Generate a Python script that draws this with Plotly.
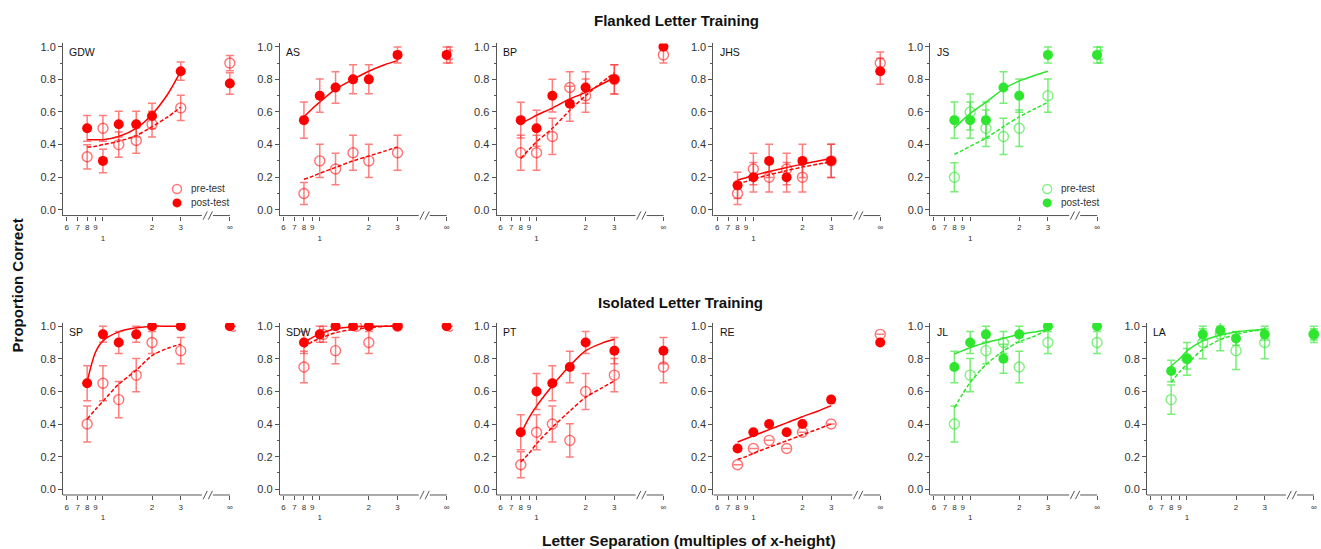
import plotly.graph_objects as go

W, H = 1321, 549

# ---------------- data ----------------
separation = [0.8, 1.0, 1.25, 1.6, 2.0, 3.0, 6.0]   # last value is the "∞" condition
fit_sep = [0.8, 0.9, 1.0, 1.25, 1.6, 2.0, 2.5, 3.0]
x_tickvals = [0.6, 0.7, 0.8, 0.9, 1, 2, 3, 6]
x_ticktext = ["6", "7", "8", "9", "<br>1", "2", "3", "∞"]
y_tickvals = [0, 0.2, 0.4, 0.6, 0.8, 1.0]

gdw_pre = [0.325, 0.50, 0.40, 0.425, 0.525, 0.625, 0.90]
gdw_pre_err = [0.074, 0.079, 0.077, 0.078, 0.079, 0.077, 0.047]
gdw_post = [0.50, 0.30, 0.525, 0.525, 0.575, 0.85, 0.775]
gdw_post_err = [0.079, 0.072, 0.079, 0.079, 0.078, 0.056, 0.066]
gdw_fit_pre = [0.385, 0.39, 0.40, 0.42, 0.455, 0.51, 0.57, 0.63]
gdw_fit_post = [0.43, 0.43, 0.43, 0.45, 0.50, 0.585, 0.71, 0.85]

as_pre = [0.10, 0.30, 0.25, 0.35, 0.30, 0.35, 0.95]
as_pre_err = [0.067, 0.102, 0.097, 0.107, 0.102, 0.107, 0.049]
as_post = [0.55, 0.70, 0.75, 0.80, 0.80, 0.95, 0.95]
as_post_err = [0.111, 0.102, 0.097, 0.089, 0.089, 0.049, 0.049]
as_fit_pre = [0.187, 0.205, 0.224, 0.26, 0.30, 0.33, 0.36, 0.386]
as_fit_post = [0.57, 0.62, 0.66, 0.74, 0.80, 0.85, 0.89, 0.915]

bp_pre = [0.35, 0.35, 0.45, 0.75, 0.70, 0.80, 0.95]
bp_pre_err = [0.107, 0.107, 0.111, 0.097, 0.102, 0.09, 0.049]
bp_post = [0.55, 0.50, 0.70, 0.65, 0.75, 0.80, 1.0]
bp_post_err = [0.11, 0.11, 0.10, 0.107, 0.097, 0.09, None]
bp_fit_pre = [0.315, 0.37, 0.417, 0.50, 0.61, 0.70, 0.78, 0.84]
bp_fit_post = [0.533, 0.555, 0.58, 0.624, 0.68, 0.72, 0.77, 0.81]

jhs_pre = [0.10, 0.25, 0.20, 0.25, 0.20, 0.30, 0.90]
jhs_pre_err = [0.067, 0.097, 0.09, 0.097, 0.09, 0.102, 0.067]
jhs_post = [0.15, 0.20, 0.30, 0.20, 0.30, 0.30, 0.85]
jhs_post_err = [0.08, 0.09, 0.102, 0.09, 0.102, 0.102, 0.08]
jhs_fit_pre = [0.158, 0.173, 0.188, 0.215, 0.24, 0.262, 0.28, 0.295]
jhs_fit_post = [0.183, 0.197, 0.21, 0.235, 0.26, 0.28, 0.30, 0.315]

js_pre = [0.20, 0.60, 0.50, 0.45, 0.50, 0.70, 0.95]
js_pre_err = [0.089, 0.11, 0.112, 0.111, 0.112, 0.102, 0.049]
js_post = [0.55, 0.55, 0.55, 0.75, 0.70, 0.95, 0.95]
js_post_err = [0.111, 0.111, 0.111, 0.097, 0.102, 0.049, 0.049]
js_fit_pre = [0.34, 0.365, 0.39, 0.44, 0.51, 0.57, 0.62, 0.66]
js_fit_post = [0.50, 0.55, 0.59, 0.66, 0.74, 0.79, 0.825, 0.85]

sp_pre = [0.40, 0.65, 0.55, 0.70, 0.90, 0.85, 1.0]
sp_pre_err = [0.11, 0.107, 0.111, 0.102, 0.067, 0.08, None]
sp_post = [0.65, 0.95, 0.90, 0.95, 1.0, 1.0, 1.0]
sp_post_err = [0.107, 0.049, 0.067, 0.049, None, None, None]
sp_fit_pre = [0.43, 0.49, 0.54, 0.645, 0.73, 0.82, 0.865, 0.89]
sp_fit_post = [0.66, 0.84, 0.91, 0.965, 0.99, 1.0, 1.0, 1.0]

sdw_pre = [0.75, 0.95, 0.85, 1.0, 0.90, 1.0, 1.0]
sdw_pre_err = [0.097, 0.049, 0.08, None, 0.067, None, None]
sdw_post = [0.90, 0.95, 1.0, 1.0, 1.0, 1.0, 1.0]
sdw_post_err = [0.067, 0.049, None, None, None, None, None]
sdw_fit_pre = [0.87, 0.905, 0.925, 0.96, 0.98, 0.99, 1.0, 1.0]
sdw_fit_post = [0.90, 0.93, 0.953, 0.985, 0.995, 1.0, 1.0, 1.0]

pt_pre = [0.15, 0.35, 0.40, 0.30, 0.60, 0.70, 0.75]
pt_pre_err = [0.08, 0.107, 0.11, 0.102, 0.11, 0.102, 0.097]
pt_post = [0.35, 0.60, 0.65, 0.75, 0.90, 0.85, 0.85]
pt_post_err = [0.107, 0.11, 0.107, 0.097, 0.067, 0.08, 0.08]
pt_fit_pre = [0.168, 0.22, 0.28, 0.38, 0.48, 0.564, 0.62, 0.665]
pt_fit_post = [0.34, 0.44, 0.51, 0.635, 0.757, 0.85, 0.895, 0.92]

re_pre = [0.15, 0.25, 0.30, 0.25, 0.35, 0.40, 0.95]
re_pre_err = [None] * 7
re_post = [0.25, 0.35, 0.40, 0.35, 0.40, 0.55, 0.90]
re_post_err = [None] * 7
re_fit_pre = [0.183, 0.20, 0.22, 0.258, 0.297, 0.334, 0.37, 0.40]
re_fit_post = [0.29, 0.31, 0.328, 0.366, 0.407, 0.445, 0.48, 0.513]

jl_pre = [0.40, 0.70, 0.85, 0.90, 0.75, 0.90, 0.90]
jl_pre_err = [0.11, 0.102, 0.08, 0.067, 0.097, 0.067, 0.067]
jl_post = [0.75, 0.90, 0.95, 0.80, 0.95, 1.0, 1.0]
jl_post_err = [0.097, 0.067, 0.049, 0.089, 0.049, None, None]
jl_fit_pre = [0.50, 0.585, 0.655, 0.765, 0.848, 0.905, 0.94, 0.98]
jl_fit_post = [0.83, 0.85, 0.868, 0.90, 0.925, 0.95, 0.965, 0.98]

la_pre = [0.55, 0.80, 0.90, 0.95, 0.85, 0.90, 0.95]
la_pre_err = [0.09, 0.10, 0.10, 0.10, 0.115, 0.10, 0.05]
la_post = [0.725, 0.80, 0.95, 0.975, 0.925, 0.95, 0.95]
la_post_err = [0.066, 0.063, 0.035, 0.025, 0.042, 0.035, 0.035]
la_fit_pre = [0.655, 0.72, 0.767, 0.858, 0.918, 0.95, 0.97, 0.98]
la_fit_post = [0.757, 0.80, 0.848, 0.91, 0.945, 0.965, 0.975, 0.98]

# ---------------- styling ----------------
RED = dict(full="rgb(255,0,0)", light="rgba(255,0,0,0.55)", err="rgba(255,40,40,0.6)")
GREEN = dict(full="rgb(46,230,46)", light="rgba(46,230,46,0.6)", err="rgba(46,230,46,0.65)")

panels = [
    ("GDW", 0, 0, RED, gdw_pre, gdw_pre_err, gdw_post, gdw_post_err, gdw_fit_pre, gdw_fit_post),
    ("AS", 0, 1, RED, as_pre, as_pre_err, as_post, as_post_err, as_fit_pre, as_fit_post),
    ("BP", 0, 2, RED, bp_pre, bp_pre_err, bp_post, bp_post_err, bp_fit_pre, bp_fit_post),
    ("JHS", 0, 3, RED, jhs_pre, jhs_pre_err, jhs_post, jhs_post_err, jhs_fit_pre, jhs_fit_post),
    ("JS", 0, 4, GREEN, js_pre, js_pre_err, js_post, js_post_err, js_fit_pre, js_fit_post),
    ("SP", 1, 0, RED, sp_pre, sp_pre_err, sp_post, sp_post_err, sp_fit_pre, sp_fit_post),
    ("SDW", 1, 1, RED, sdw_pre, sdw_pre_err, sdw_post, sdw_post_err, sdw_fit_pre, sdw_fit_post),
    ("PT", 1, 2, RED, pt_pre, pt_pre_err, pt_post, pt_post_err, pt_fit_pre, pt_fit_post),
    ("RE", 1, 3, RED, re_pre, re_pre_err, re_post, re_post_err, re_fit_pre, re_fit_post),
    ("JL", 1, 4, GREEN, jl_pre, jl_pre_err, jl_post, jl_post_err, jl_fit_pre, jl_fit_post),
    ("LA", 1, 5, GREEN, la_pre, la_pre_err, la_post, la_post_err, la_fit_pre, la_fit_post),
]
# open (pre-test) symbols nudged right where they coincide with the filled ones
dodge = {"AS": [6], "SP": [6], "SDW": [1, 3, 6], "JS": [6]}
DODGE_FACTOR = 1.05

FONT = "Arial, Liberation Sans, sans-serif"

# pixel geometry of the plot areas
COL_LEFT0, COL_STEP, PW = 63, 216.8, 173
ROW_TOP = [40.7, 321.7]
PH = 173
Y_RANGE = [-0.035, 1.02]
X_RANGE_LOG = [-0.245, 0.816]

fig = go.Figure()
layout = dict(
    width=W, height=H, margin=dict(l=0, r=0, t=0, b=0),
    plot_bgcolor="white", paper_bgcolor="white", showlegend=False,
    font=dict(family=FONT, color="#222"),
)
shapes, annotations = [], []

for i, (name, row, col, pal, pre, pre_err, post, post_err, fpre, fpost) in enumerate(panels):
    k = i + 1
    sfx = "" if k == 1 else str(k)
    xa, ya = "x" + sfx, "y" + sfx
    left = COL_LEFT0 + COL_STEP * col
    top = ROW_TOP[row]
    layout["xaxis" + sfx] = dict(
        domain=[left / W, (left + PW) / W], anchor=ya, type="log", range=X_RANGE_LOG,
        showgrid=False, zeroline=False, showline=False,
        tickmode="array", tickvals=x_tickvals, ticktext=x_ticktext,
        ticks="outside", ticklen=4, tickwidth=1, tickcolor="#555",
        tickfont=dict(size=8, color="#333", family=FONT),
    )
    layout["yaxis" + sfx] = dict(
        domain=[1 - (top + PH) / H, 1 - top / H], anchor=xa, range=Y_RANGE,
        showgrid=False, zeroline=False, showline=True, linecolor="#555", linewidth=1,
        tickmode="array", tickvals=y_tickvals, tickformat=".1f",
        ticks="outside", ticklen=4, tickwidth=1, tickcolor="#555",
        minor=dict(dtick=0.1, tick0=0, ticks="outside", ticklen=2, tickcolor="#555"),
        tickfont=dict(size=11, color="#333", family=FONT),
    )

    pre_x = list(separation)
    for j in dodge.get(name, []):
        pre_x[j] = separation[j] * DODGE_FACTOR

    fig.add_trace(go.Scatter(x=fit_sep, y=fpre, mode="lines", xaxis=xa, yaxis=ya,
                             line=dict(color=pal["full"], width=1.5, dash="4px,2px", shape="spline", smoothing=0.8),
                             hoverinfo="skip"))
    fig.add_trace(go.Scatter(x=fit_sep, y=fpost, mode="lines", xaxis=xa, yaxis=ya,
                             line=dict(color=pal["full"], width=1.5, shape="spline", smoothing=0.8),
                             hoverinfo="skip"))
    fig.add_trace(go.Scatter(
        x=pre_x, y=pre, mode="markers", xaxis=xa, yaxis=ya,
        marker=dict(symbol="circle-open", size=10, color=pal["light"], line=dict(width=1.4, color=pal["light"])),
        error_y=dict(type="data", array=pre_err, visible=True, color=pal["err"], thickness=1.5, width=4),
    ))
    fig.add_trace(go.Scatter(
        x=separation, y=post, mode="markers", xaxis=xa, yaxis=ya,
        marker=dict(symbol="circle", size=10, color=pal["full"], line=dict(width=0)),
        error_y=dict(type="data", array=post_err, visible=True, color=pal["err"], thickness=1.5, width=4),
    ))

    ax_col = "#555"
    dref_x, dref_y = xa + " domain", ya + " domain"
    shapes.append(dict(type="line", xref=dref_x, yref=dref_y,
                       x0=0, x1=0.803, y0=0, y1=0, line=dict(color=ax_col, width=1)))
    shapes.append(dict(type="line", xref=dref_x, yref=dref_y,
                       x0=0.867, x1=0.965, y0=0, y1=0, line=dict(color=ax_col, width=1)))
    for c in (0.822, 0.852):
        shapes.append(dict(type="line", xref=dref_x, yref=dref_y,
                           x0=c - 0.012, x1=c + 0.012, y0=-0.024, y1=0.024,
                           line=dict(color=ax_col, width=1)))
    annotations.append(dict(text=name, xref=dref_x, yref=ya, x=0.025, y=0.965,
                            xanchor="left", yanchor="middle", showarrow=False,
                            font=dict(size=10.5, color="#111", family=FONT)))

    if name in ("GDW", "JS"):
        cx = left + (114 if name == "GDW" else 117)
        for lab, yy, filled in (("pre-test", 187, False), ("post-test", 201, True)):
            shapes.append(dict(type="circle", xref="paper", yref="paper",
                               xsizemode="pixel", ysizemode="pixel",
                               xanchor=cx / W, yanchor=1 - yy / H,
                               x0=-4.5, x1=4.5, y0=-4.5, y1=4.5,
                               fillcolor=pal["full"] if filled else "rgba(0,0,0,0)",
                               line=dict(color=pal["full"] if filled else pal["light"], width=0 if filled else 1.4)))
            annotations.append(dict(text=lab, xref="paper", yref="paper", x=(cx + 12) / W, y=1 - yy / H,
                                    xanchor="left", yanchor="middle", showarrow=False,
                                    font=dict(size=10, color="#333", family=FONT)))

title_font = dict(size=15, color="#111", family=FONT)
annotations += [
    dict(text="<b>Flanked Letter Training</b>", xref="paper", yref="paper", x=676 / W, y=1 - 18 / H,
         showarrow=False, xanchor="center", yanchor="middle", font=title_font),
    dict(text="<b>Isolated Letter Training</b>", xref="paper", yref="paper", x=680 / W, y=1 - 301 / H,
         showarrow=False, xanchor="center", yanchor="middle", font=title_font),
    dict(text="<b>Proportion Correct</b>", xref="paper", yref="paper", x=17 / W, y=1 - 284 / H,
         showarrow=False, xanchor="center", yanchor="middle", textangle=-90, font=title_font),
    dict(text="<b>Letter Separation (multiples of x-height)</b>", xref="paper", yref="paper",
         x=689 / W, y=1 - 540 / H, showarrow=False, xanchor="center", yanchor="middle",
         font=dict(size=15.5, color="#111", family=FONT)),
]
layout["shapes"] = shapes
layout["annotations"] = annotations
fig.update_layout(**layout)
fig.write_html(
    "out.html",
    config={"displayModeBar": False},
    post_script="document.body.style.margin='0';document.body.style.overflow='hidden';",
)
